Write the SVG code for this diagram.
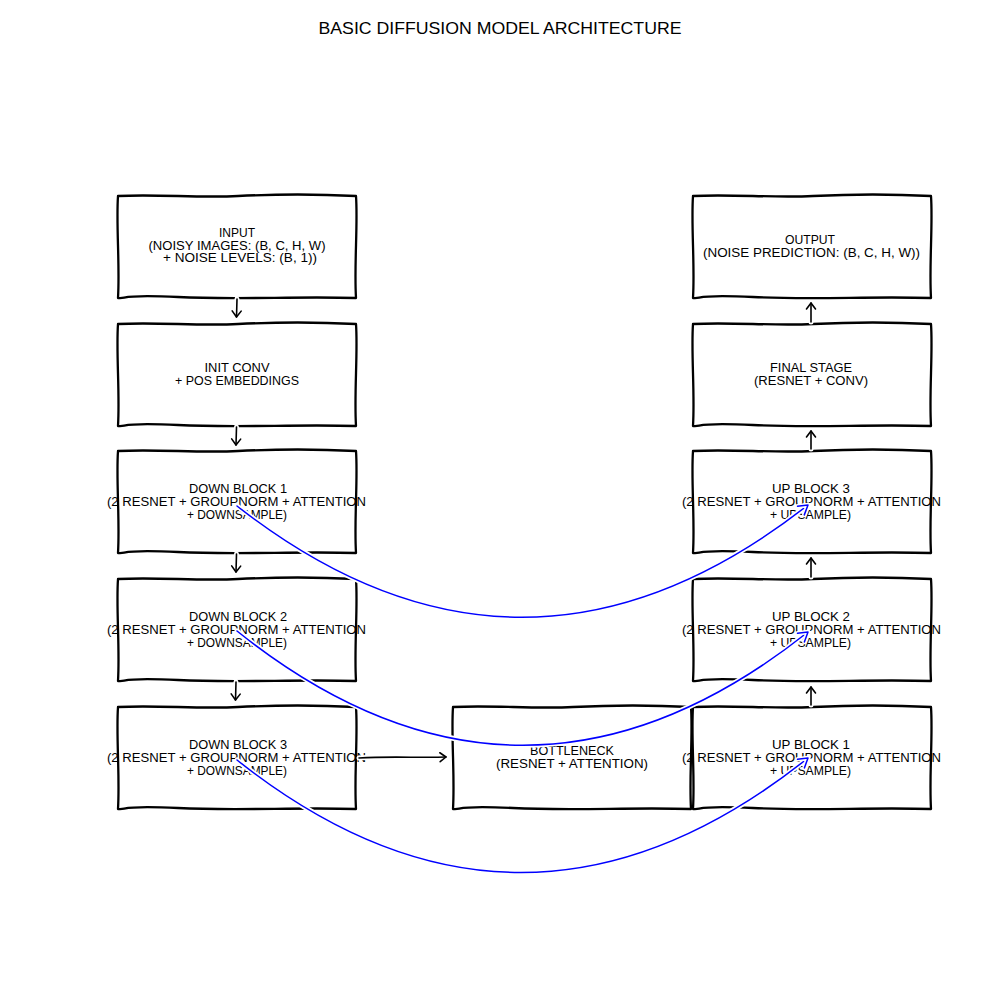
<svg xmlns="http://www.w3.org/2000/svg" width="1000" height="1000" viewBox="0 0 1000 1000">
<style>
.box{fill:#fff;stroke:#000;stroke-width:2.3;stroke-linejoin:round}
text{font-family:"Liberation Sans",Arial,sans-serif;font-size:12px;fill:#000;text-anchor:middle}
.title{font-size:17px}
.halo{fill:none;stroke:#fff;stroke-width:5;stroke-linecap:round}
.blk{fill:none;stroke:#000;stroke-width:1.6;stroke-linecap:round}
.blu{fill:none;stroke:#00f;stroke-width:1.5;stroke-linecap:round}
</style>
<defs>
<path id="rect" d="M0,1 C40,-1 80,3 120,1 S200,-1 238,1 C240,30 236,70 238,103 C180,101 120,105 60,102 S10,104 0,103 C2,70 -2,30 0,1 Z"/>
<marker id="ah" markerWidth="14" markerHeight="14" refX="9" refY="7" orient="auto" markerUnits="userSpaceOnUse">
<path d="M3,2.5 L9,7 L3,11.5" fill="none" stroke="#000" stroke-width="1.6" stroke-linecap="round" stroke-linejoin="round"/>
</marker>
<marker id="ahb" markerWidth="18" markerHeight="18" refX="12" refY="9" orient="auto" markerUnits="userSpaceOnUse">
<path d="M3,3.5 L12,9 L3,14.5" fill="none" stroke="#fff" stroke-width="4.5" stroke-linecap="round" stroke-linejoin="round"/>
<path d="M3,3.5 L12,9 L3,14.5" fill="none" stroke="#00f" stroke-width="1.5" stroke-linecap="round" stroke-linejoin="round"/>
</marker>
</defs>
<rect width="1000" height="1000" fill="#fff"/>
<text class="title" x="500" y="34" textLength="363" lengthAdjust="spacingAndGlyphs">BASIC DIFFUSION MODEL ARCHITECTURE</text>

<g id="input"><use href="#rect" x="118" y="195" class="box"/>
<text x="237" y="237" textLength="36" lengthAdjust="spacingAndGlyphs">INPUT</text>
<text x="237" y="249.5" textLength="177" lengthAdjust="spacingAndGlyphs">(NOISY IMAGES: (B, C, H, W)</text>
<text x="240" y="262" textLength="154" lengthAdjust="spacingAndGlyphs">+ NOISE LEVELS: (B, 1))</text></g>

<g id="initconv"><use href="#rect" x="118" y="323" class="box"/>
<text x="237" y="371.5" textLength="65" lengthAdjust="spacingAndGlyphs">INIT CONV</text>
<text x="237" y="384.5" textLength="124" lengthAdjust="spacingAndGlyphs">+ POS EMBEDDINGS</text></g>

<g id="down1"><use href="#rect" x="118" y="450" class="box"/>
<text x="238" y="492.5" textLength="98" lengthAdjust="spacingAndGlyphs">DOWN BLOCK 1</text>
<text x="236.5" y="505.5" textLength="259" lengthAdjust="spacingAndGlyphs">(2 RESNET + GROUPNORM + ATTENTION</text>
<text x="237" y="518.5" textLength="100" lengthAdjust="spacingAndGlyphs">+ DOWNSAMPLE)</text></g>

<g id="down2"><use href="#rect" x="118" y="578" class="box"/>
<text x="238" y="620.5" textLength="98" lengthAdjust="spacingAndGlyphs">DOWN BLOCK 2</text>
<text x="236.5" y="633.5" textLength="259" lengthAdjust="spacingAndGlyphs">(2 RESNET + GROUPNORM + ATTENTION</text>
<text x="237" y="646.5" textLength="100" lengthAdjust="spacingAndGlyphs">+ DOWNSAMPLE)</text></g>

<g id="down3"><use href="#rect" x="118" y="706" class="box"/>
<text x="238" y="748.5" textLength="98" lengthAdjust="spacingAndGlyphs">DOWN BLOCK 3</text>
<text x="236.5" y="761.5" textLength="259" lengthAdjust="spacingAndGlyphs">(2 RESNET + GROUPNORM + ATTENTION</text>
<text x="237" y="774.5" textLength="100" lengthAdjust="spacingAndGlyphs">+ DOWNSAMPLE)</text></g>

<g id="bottleneck"><use href="#rect" x="453" y="706" class="box"/>
<text x="572" y="754.5" textLength="84" lengthAdjust="spacingAndGlyphs">BOTTLENECK</text>
<text x="572" y="767.5" textLength="152" lengthAdjust="spacingAndGlyphs">(RESNET + ATTENTION)</text></g>

<g id="up1"><use href="#rect" x="693" y="706" class="box"/>
<text x="811" y="748.5" textLength="78" lengthAdjust="spacingAndGlyphs">UP BLOCK 1</text>
<text x="811.5" y="761.5" textLength="259" lengthAdjust="spacingAndGlyphs">(2 RESNET + GROUPNORM + ATTENTION</text>
<text x="810.5" y="774.5" textLength="81" lengthAdjust="spacingAndGlyphs">+ UPSAMPLE)</text></g>

<g id="up2"><use href="#rect" x="693" y="578" class="box"/>
<text x="811" y="620.5" textLength="78" lengthAdjust="spacingAndGlyphs">UP BLOCK 2</text>
<text x="811.5" y="633.5" textLength="259" lengthAdjust="spacingAndGlyphs">(2 RESNET + GROUPNORM + ATTENTION</text>
<text x="810.5" y="646.5" textLength="81" lengthAdjust="spacingAndGlyphs">+ UPSAMPLE)</text></g>

<g id="up3"><use href="#rect" x="693" y="450" class="box"/>
<text x="811" y="492.5" textLength="78" lengthAdjust="spacingAndGlyphs">UP BLOCK 3</text>
<text x="811.5" y="505.5" textLength="259" lengthAdjust="spacingAndGlyphs">(2 RESNET + GROUPNORM + ATTENTION</text>
<text x="810.5" y="518.5" textLength="81" lengthAdjust="spacingAndGlyphs">+ UPSAMPLE)</text></g>

<g id="finalstage"><use href="#rect" x="693" y="323" class="box"/>
<text x="811" y="371.5" textLength="82" lengthAdjust="spacingAndGlyphs">FINAL STAGE</text>
<text x="811" y="384.5" textLength="114" lengthAdjust="spacingAndGlyphs">(RESNET + CONV)</text></g>

<g id="output"><use href="#rect" x="693" y="195" class="box"/>
<text x="810" y="243.5" textLength="50" lengthAdjust="spacingAndGlyphs">OUTPUT</text>
<text x="811.5" y="256.5" textLength="217" lengthAdjust="spacingAndGlyphs">(NOISE PREDICTION: (B, C, H, W))</text></g>

<g id="connectors">
<path class="halo" d="M237,299 L236.5,317 M236.5,427 L236,445 M236.5,554 L236,572 M236,682 L235.5,700 M811,322 L811,303 M811,449 L811,431 M811,577 L811,558 M811,705 L811,687 M359,758 C390,756 420,758 446,757"/>
<path class="blk" marker-end="url(#ah)" d="M237,299 L236.5,317"/>
<path class="blk" marker-end="url(#ah)" d="M236.5,427 L236,445"/>
<path class="blk" marker-end="url(#ah)" d="M236.5,554 L236,572"/>
<path class="blk" marker-end="url(#ah)" d="M236,682 L235.5,700"/>
<path class="blk" marker-end="url(#ah)" d="M811,322 L811,303"/>
<path class="blk" marker-end="url(#ah)" d="M811,449 L811,431"/>
<path class="blk" marker-end="url(#ah)" d="M811,577 L811,558"/>
<path class="blk" marker-end="url(#ah)" d="M811,705 L811,687"/>
<path class="blk" marker-end="url(#ah)" d="M359,758 C390,756 420,758 446,757"/>
<path class="halo" d="M237,506 Q522,729 808,505 M237,631 Q522,859 808,632 M237,760 Q522,986 808,758"/>
<path class="blu" marker-end="url(#ahb)" d="M237,506 Q522,729 808,505"/>
<path class="blu" marker-end="url(#ahb)" d="M237,631 Q522,859 808,632"/>
<path class="blu" marker-end="url(#ahb)" d="M237,760 Q522,986 808,758"/>
</g>
</svg>
